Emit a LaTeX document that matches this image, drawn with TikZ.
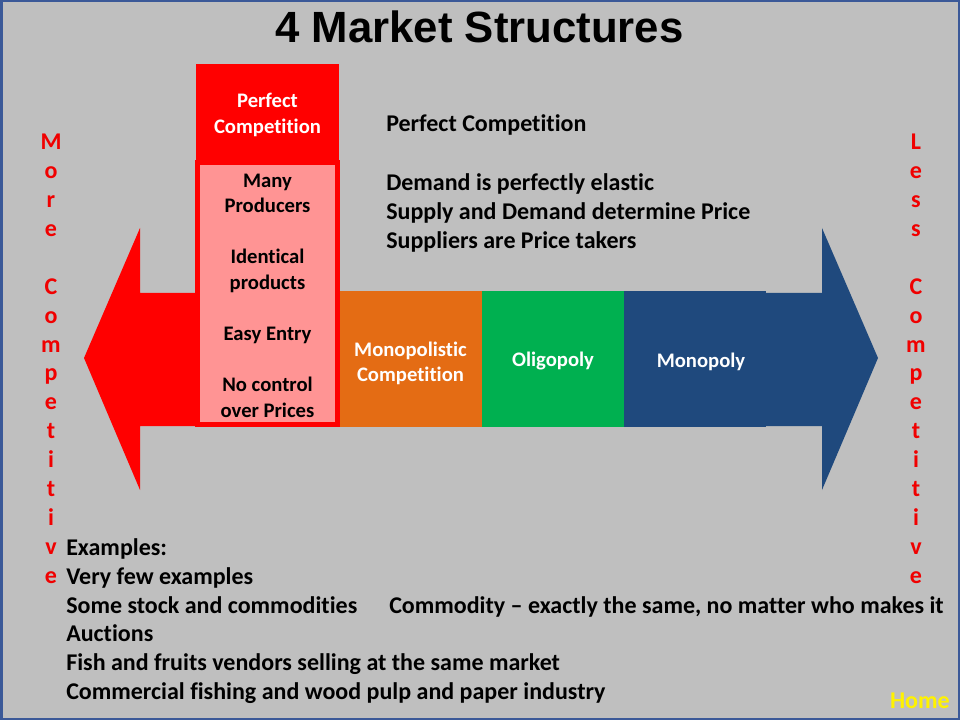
\documentclass[tikz,border=0pt]{standalone}
\usepackage{fontspec}
\setmainfont[Ligatures=NoCommon]{Carlito}
\newfontfamily\titlefont{Liberation Sans}
\definecolor{bgray}{RGB}{191,191,191}
\definecolor{frameblue}{RGB}{59,89,152}
\definecolor{pinkfill}{RGB}{255,148,148}
\definecolor{orangebox}{RGB}{228,108,20}
\definecolor{greenbox}{RGB}{0,176,80}
\definecolor{bluebox}{RGB}{31,73,125}
\definecolor{vred}{RGB}{240,0,0}
\begin{document}
\begin{tikzpicture}[x=0.75pt,y=-0.75pt,
  body/.style={font=\fontsize{18pt}{21.75pt}\selectfont\bfseries, inner sep=0pt, anchor=base west},
  lbl/.style={font=\fontsize{15.5pt}{19.2pt}\selectfont\bfseries, text=white, inner sep=0pt, anchor=base},
  pk/.style={font=\fontsize{15.5pt}{19.2pt}\selectfont\bfseries, text=black, inner sep=0pt, anchor=base},
  vlet/.style={font=\fontsize{18pt}{21.75pt}\selectfont\bfseries, text=vred, inner sep=0pt, anchor=base}]
\useasboundingbox (0,0) rectangle (960,720);
\fill[bgray] (0,0) rectangle (960,720);
\draw[frameblue, line width=1.875pt] (1.25,1.25) rectangle (958.75,718.75);
% title
\node[font=\titlefont\bfseries\fontsize{32.8pt}{38pt}\selectfont, inner sep=0pt, anchor=base] (title) at (479.5,42.5) {4 Market Structures};
% arrows
\fill[red] (84,358) -- (140,228) -- (140,293) -- (260,293) -- (260,426) -- (140,426) -- (140,490) -- cycle;
\fill[bluebox] (878,358) -- (822,228) -- (822,293) -- (700,293) -- (700,426) -- (822,426) -- (822,490) -- cycle;
% boxes
\fill[orangebox] (338,291) rectangle (481.5,427);
\fill[greenbox] (481.5,291) rectangle (624,427);
\fill[bluebox] (624,291) rectangle (766,427);
\fill[red] (196,64) rectangle (339,163);
\draw[red, line width=3.75pt, fill=pinkfill] (197.5,162.5) rectangle (337.5,424.5);
% box labels
\node[lbl] (pc1) at (267.5,108) {Perfect};
\node[lbl] (pc2) at (267.5,133.5) {Competition};
\node[pk] (p1) at (267.5,187.5) {Many};
\node[pk] (p2) at (267.5,213) {Producers};
\node[pk] (p3) at (267.5,264) {Identical};
\node[pk] (p4) at (267.5,289.5) {products};
\node[pk] (p5) at (267.5,340.5) {Easy Entry};
\node[pk] (p6) at (267.5,391.5) {No control};
\node[pk] (p7) at (267.5,417) {over Prices};
\node[lbl] (mc1) at (410.5,356) {Monopolistic};
\node[lbl] (mc2) at (410.5,381.5) {Competition};
\node[lbl] (olig) at (553,366.5) {Oligopoly};
\node[lbl] (mono) at (701,367.5) {Monopoly};
% top right text
\node[body] (t1) at (386,132) {Perfect Competition};
\node[body] (t2) at (386,190.5) {Demand is perfectly elastic};
\node[body] (t3) at (386,219.5) {Supply and Demand determine Price};
\node[body] (t4) at (386,248.5) {Suppliers are Price takers};
% vertical letters
\foreach \ch [count=\i from 0] in {M,o,r,e,{},C,o,m,p,e,t,i,t,i,v,e}
  \node[vlet] (ml\i) at (51,149.5+28.93*\i) {\ch};
\foreach \ch [count=\i from 0] in {L,e,s,s,{},C,o,m,p,e,t,i,t,i,v,e}
  \node[vlet] (ll\i) at (916,149.5+28.93*\i) {\ch};
% bottom text
\node[body] (b1) at (66,555.5) {Examples:};
\node[body] (b2) at (66,584.3) {Very few examples};
\node[body] (b3) at (66,613.1) {Some stock and commodities};
\node[body] (b3b) at (389,613.1) {Commodity -- exactly the same, no matter who makes it};
\node[body] (b4) at (66,641.9) {Auctions};
\node[body] (b5) at (66,670.7) {Fish and fruits vendors selling at the same market};
\node[body] (b6) at (66,699.5) {Commercial fishing and wood pulp and paper industry};
\node[font=\fontsize{18pt}{21.75pt}\selectfont\bfseries, text=yellow, inner sep=0pt, anchor=base east] (home) at (950,708) {Home};
\end{tikzpicture}
\end{document}
